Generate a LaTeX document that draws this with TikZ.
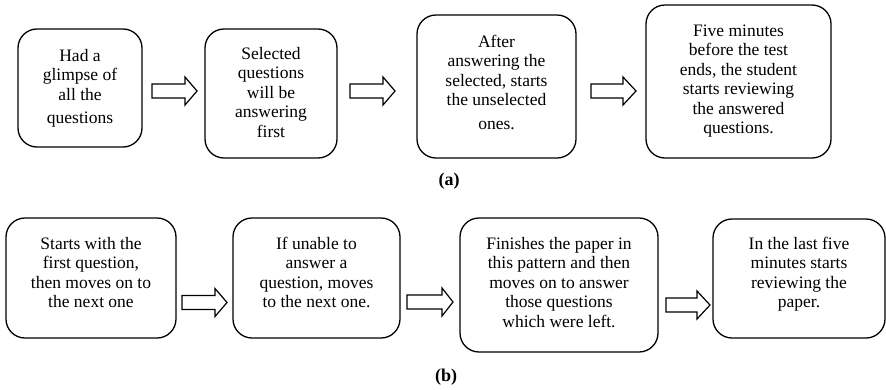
\documentclass[tikz,border=0pt]{standalone}
\usepackage{fontspec}
\setmainfont{Liberation Serif}
\begin{document}
\begin{tikzpicture}[x=1pt,y=-1pt,
  box/.style={draw, line width=1.3pt, rounded corners=19pt, inner sep=0pt},
  txt/.style={anchor=north, align=center, inner sep=0pt,
    font=\fontsize{17.5}{19.5}\selectfont},
  sublabel/.style={font=\fontsize{18}{20}\selectfont\bfseries, inner sep=0pt},
  pics/barrow/.style n args={2}{code={
    \draw[line width=1.2pt, line join=miter]
      (0,-7) -- (#1,-7) -- (#1,-14) -- ({#1+#2},0) -- (#1,14) -- (#1,7) -- (0,7) -- cycle;
  }}]
\useasboundingbox (0,0) rectangle (886,389);

% row (a)
\node[box, minimum width=124pt, minimum height=118pt] (b1) at (80,88) {};
\node[box, minimum width=132pt, minimum height=129pt] (b2) at (271,93.5) {};
\node[box, minimum width=159pt, minimum height=143pt] (b3) at (496.5,86.5) {};
\node[box, minimum width=185pt, minimum height=153pt] (b4) at (738.5,81.5) {};

\node[txt] (t1) at (80,47.6) {\strut Had a\\glimpse of\\all the\\[4pt]questions};
\node[txt] (t2) at (271,45.6) {\strut Selected\\questions\\will be\\answering\\first};
\node[txt] (t3) at (496.5,33.6) {\strut After\\answering the\\selected, starts\\the unselected\\[4pt]ones.};
\node[txt] (t4) at (738.5,22.6) {\strut Five minutes\\before the test\\ends, the student\\starts reviewing\\the answered\\questions.};

\pic (a1) at (152,91) {barrow={33}{12}};
\pic (a2) at (350,91) {barrow={33}{12}};
\pic (a3) at (591,91) {barrow={32}{13}};

\node[sublabel] (la) at (449,181) {(a)};

% row (b)
\node[box, minimum width=170pt, minimum height=120pt] (b5) at (91,278) {};
\node[box, minimum width=167pt, minimum height=120pt] (b6) at (316.5,278) {};
\node[box, minimum width=198pt, minimum height=134pt] (b7) at (559,285) {};
\node[box, minimum width=172pt, minimum height=119pt] (b8) at (799,278.5) {};

\node[txt] (t5) at (91,235.6) {\strut Starts with the\\first question,\\then moves on to\\the next one};
\node[txt] (t6) at (316.5,235.6) {\strut If unable to\\answer a\\question, moves\\to the next one.};
\node[txt] (t7) at (559,235.6) {\strut Finishes the paper in\\this pattern and then\\moves on to answer\\those questions\\which were left.};
\node[txt] (t8) at (799,235.6) {\strut In the last five\\minutes starts\\reviewing the\\paper.};

\pic (a4) at (182,302.5) {barrow={33}{12}};
\pic (a5) at (407,302) {barrow={35}{11}};
\pic (a6) at (666,305) {barrow={31}{13}};

\node[sublabel] (lb) at (446,377) {(b)};
\end{tikzpicture}
\end{document}
